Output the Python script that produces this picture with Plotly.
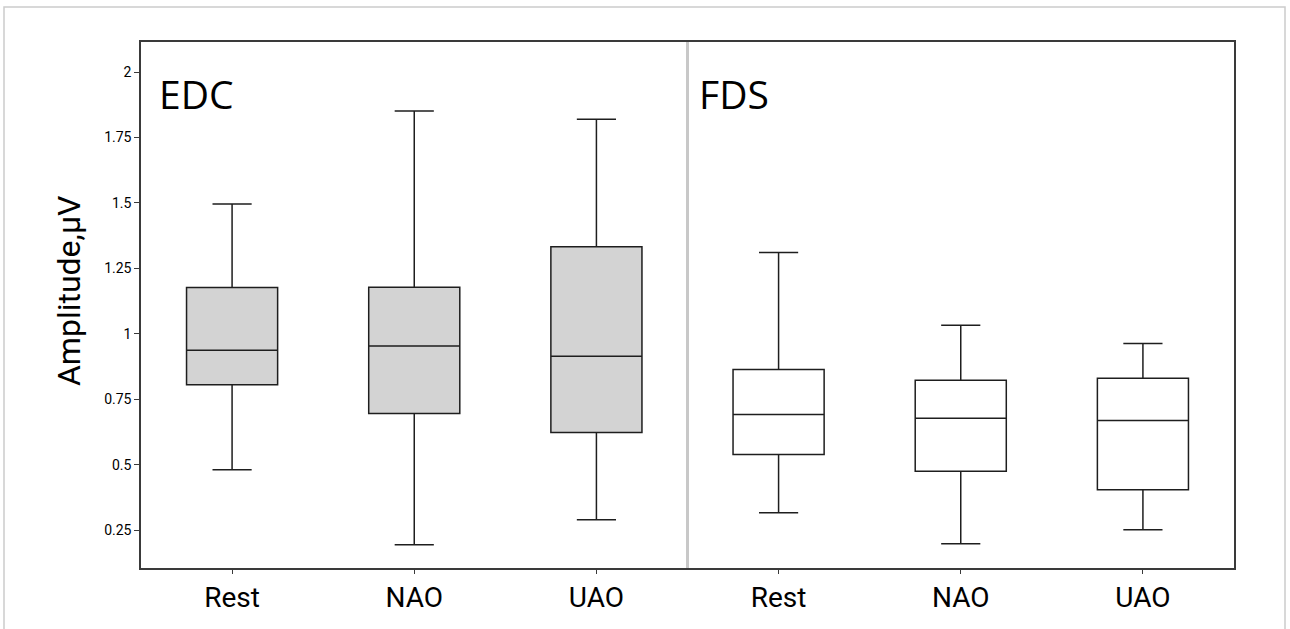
import plotly.graph_objects as go

# ---- data ----
tick_labels = ["Rest", "NAO", "UAO", "Rest", "NAO", "UAO"]
groups = ["EDC", "FDS"]

edc_upper = [1.496, 1.851, 1.820]
edc_q3 = [1.177, 1.178, 1.333]
edc_median = [0.937, 0.953, 0.914]
edc_q1 = [0.805, 0.695, 0.623]
edc_lower = [0.480, 0.194, 0.289]

fds_upper = [1.311, 1.033, 0.963]
fds_q3 = [0.864, 0.822, 0.830]
fds_median = [0.692, 0.677, 0.669]
fds_q1 = [0.539, 0.475, 0.404]
fds_lower = [0.316, 0.198, 0.251]

y_ticks = [0.25, 0.5, 0.75, 1, 1.25, 1.5, 1.75, 2]
y_tick_text = ["0.25", "0.5", "0.75", "1", "1.25", "1.5", "1.75", "2"]

# ---- figure ----
W, H = 1290, 629
ml, mr, mt, mb = 141, 56, 42, 61
pw, ph = W - ml - mr, H - mt - mb

def px_x(p):
    return (p - ml) / pw

def px_y(p):
    return (H - mb - p) / ph

line_col = "#1e1e1e"
fig = go.Figure()

fig.add_trace(go.Box(
    x=[0, 1, 2], q1=edc_q1, median=edc_median, q3=edc_q3,
    lowerfence=edc_lower, upperfence=edc_upper,
    fillcolor="#d3d3d3", line=dict(color=line_col, width=1.5),
    width=0.5, whiskerwidth=0.43, boxpoints=False, showlegend=False,
    name=groups[0], hoverinfo="skip",
))
fig.add_trace(go.Box(
    x=[3, 4, 5], q1=fds_q1, median=fds_median, q3=fds_q3,
    lowerfence=fds_lower, upperfence=fds_upper,
    fillcolor="white", line=dict(color=line_col, width=1.5),
    width=0.5, whiskerwidth=0.43, boxpoints=False, showlegend=False,
    name=groups[1], hoverinfo="skip",
))

# divider between the two groups
fig.add_shape(type="line", xref="x", yref="paper", x0=2.5, x1=2.5, y0=0, y1=1,
              line=dict(color="#c8c8c8", width=3), layer="below")

# outer frame of the figure
fig.add_shape(type="rect", xref="paper", yref="paper",
              x0=px_x(4), x1=px_x(1285), y0=px_y(650), y1=px_y(7),
              line=dict(color="#cccccc", width=1.5), layer="below")

fig.add_annotation(text=groups[0], xref="paper", yref="paper",
                   x=px_x(157), y=px_y(94), xanchor="left", yanchor="middle",
                   showarrow=False, font=dict(family="Open Sans", size=39, color="black"))
fig.add_annotation(text=groups[1], xref="paper", yref="paper",
                   x=px_x(697), y=px_y(94), xanchor="left", yanchor="middle",
                   showarrow=False, font=dict(family="Open Sans", size=39, color="black"))
fig.add_annotation(text="Amplitude,μV", xref="paper", yref="paper",
                   x=px_x(69), y=px_y(291), xanchor="center", yanchor="middle",
                   textangle=-90, showarrow=False,
                   font=dict(family="Roboto", size=32, color="black"))

fig.update_layout(
    width=W, height=H,
    margin=dict(l=ml, r=mr, t=mt, b=mb),
    paper_bgcolor="white", plot_bgcolor="white",
    xaxis=dict(range=[-0.5, 5.5], tickvals=[0, 1, 2, 3, 4, 5], ticktext=tick_labels,
               showgrid=False, zeroline=False, showline=True, mirror=True,
               linecolor="#3a3a3a", linewidth=1.5, ticks="outside", ticklen=4,
               tickcolor="#3a3a3a", tickfont=dict(family="Roboto", size=28, color="black")),
    yaxis=dict(range=[0.105, 2.115], tickvals=y_ticks, ticktext=y_tick_text,
               showgrid=False, zeroline=False, showline=True, mirror=True,
               linecolor="#3a3a3a", linewidth=1.5, ticks="outside", ticklen=5,
               tickcolor="#3a3a3a", tickfont=dict(family="Roboto", size=14, color="black")),
)

fig.write_html("out.html")
